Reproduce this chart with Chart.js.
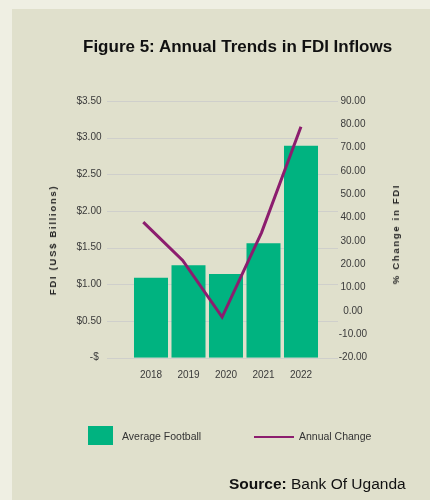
<!DOCTYPE html>
<html>
<head>
<meta charset="utf-8">
<script src="https://cdn.jsdelivr.net/npm/chart.js@4/dist/chart.umd.min.js"></script>
<style>
  html, body { margin:0; padding:0; width:430px; height:500px; overflow:hidden; background:#efefe3; font-family:"Liberation Sans", Arial, sans-serif; }
  #panel { position:absolute; left:12px; top:9px; width:418px; height:491px; background:#e0e0cc; }
  #c { position:absolute; left:0; top:0; }
  .t { position:absolute; white-space:nowrap; color:#111; }
  #title { left:83px; top:38.3px; font-size:17px; line-height:17px; font-weight:bold; }
  #source { left:229px; top:476.2px; font-size:15.5px; line-height:15.5px; }
  .axt { position:absolute; white-space:nowrap; font-size:9.5px; font-weight:bold; letter-spacing:1.7px; color:#222; transform:translate(-50%,-50%) rotate(-90deg); line-height:10px; }
  .lg { position:absolute; font-size:10.5px; line-height:10.5px; color:#333; white-space:nowrap; }
</style>
</head>
<body>
<div id="panel"></div>
<canvas id="c" width="430" height="500"></canvas>
<div class="t" id="title">Figure 5: Annual Trends in FDI Inflows</div>
<div class="axt" style="left:52.5px; top:240px;">FDI (US$ Billions)</div>
<div class="axt" style="left:395.7px; top:234px;">% Change in FDI</div>
<div style="position:absolute; left:88px; top:426px; width:25px; height:19px; background:#00b380;"></div>
<div class="lg" style="left:122px; top:430.9px;">Average Football</div>
<div style="position:absolute; left:254px; top:435.6px; width:40px; height:2.8px; background:#8c1d6e;"></div>
<div class="lg" style="left:299px; top:430.9px;">Annual Change</div>
<div class="t" id="source"><b>Source:</b> Bank Of Uganda</div>
<script>
const years = ['2018', '2019', '2020', '2021', '2022'];
const fdiBillions = [1.09, 1.26, 1.14, 1.56, 2.89];
const pctChange = [38.1, 21.7, -2.6, 33.6, 79.0];
const leftTicks = { min: 0, max: 3.5, step: 0.5 };
const rightTicks = { min: -20, max: 90, step: 10 };

const gridPlugin = {
  id: 'extGrid',
  beforeDatasetsDraw(chart) {
    const s = chart.scales.y, a = chart.chartArea, ctx = chart.ctx;
    ctx.save();
    ctx.strokeStyle = '#cfcfcb';
    ctx.lineWidth = 1;
    s.ticks.forEach(t => {
      const y = Math.round(s.getPixelForValue(t.value)) + 0.5;
      ctx.beginPath();
      ctx.moveTo(a.left - 25.25, y);
      ctx.lineTo(a.right + 18.25, y);
      ctx.stroke();
    });
    ctx.restore();
  }
};

new Chart(document.getElementById('c'), {
  data: {
    labels: years,
    datasets: [
      {
        type: 'line',
        label: 'Annual Change',
        data: pctChange.map((v, i) => ({ x: i, y: v })),
        xAxisID: 'x2',
        yAxisID: 'y1',
        borderColor: '#8c1d6e',
        borderWidth: 3,
        pointRadius: 0,
        tension: 0,
        order: 0
      },
      {
        type: 'bar',
        label: 'Average Football',
        data: fdiBillions,
        xAxisID: 'x',
        yAxisID: 'y',
        backgroundColor: '#00b380',
        grouped: false,
        categoryPercentage: 1,
        barPercentage: 0.907,
        order: 1
      }
    ]
  },
  options: {
    responsive: false,
    animation: false,
    layout: { padding: { left: 72.25, right: 50.25, top: 101, bottom: 112.3 } },
    plugins: { legend: { display: false }, tooltip: { enabled: false } },
    scales: {
      x: {
        type: 'category',
        offset: true,
        grid: { display: false, drawTicks: false },
        border: { display: false },
        ticks: { font: { family: 'Liberation Sans', size: 10 }, color: '#3a3a3a', padding: 12, maxRotation: 0 },
        afterFit(s) { s.height = 30; }
      },
      x2: {
        type: 'linear',
        display: false,
        min: -0.28,
        max: 4.477
      },
      y: {
        position: 'left',
        min: leftTicks.min,
        max: leftTicks.max,
        grid: { display: false, drawTicks: false },
        border: { display: false },
        ticks: {
          stepSize: leftTicks.step,
          padding: 30.75,
          font: { family: 'Liberation Sans', size: 10 },
          color: '#3a3a3a',
          callback: v => v === 0 ? '-$ ' : '$' + v.toFixed(2)
        },
        afterFit(s) { s.width = 60; }
      },
      y1: {
        position: 'right',
        min: rightTicks.min,
        max: rightTicks.max,
        grid: { display: false, drawTicks: false },
        border: { display: false },
        ticks: {
          stepSize: rightTicks.step,
          padding: 19,
          crossAlign: 'center',
          font: { family: 'Liberation Sans', size: 10 },
          color: '#3a3a3a',
          callback: v => v.toFixed(2)
        },
        afterFit(s) { s.width = 60; }
      }
    }
  },
  plugins: [gridPlugin]
});
</script>
</body>
</html>
